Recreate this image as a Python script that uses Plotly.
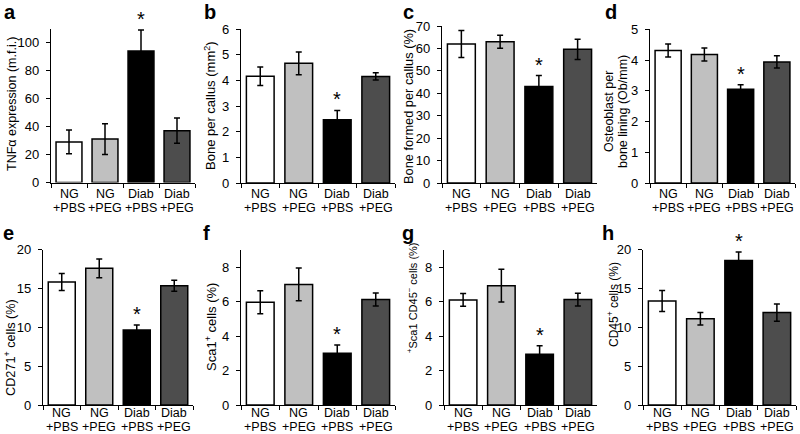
import plotly.graph_objects as go

groups = ["NG", "NG", "Diab", "Diab"]
treatments = ["+PBS", "+PEG", "+PBS", "+PEG"]
categories = ["NG +PBS", "NG +PEG", "Diab +PBS", "Diab +PEG"]
bar_colors = ["#ffffff", "#c0c0c0", "#000000", "#4d4d4d"]

panel_letters = ["a", "b", "c", "d", "e", "f", "g", "h"]

a_vals = [29, 31, 94, 37]
a_err = [8.5, 11, 15, 9]
b_vals = [4.17, 4.67, 2.47, 4.16]
b_err = [0.36, 0.44, 0.36, 0.14]
c_vals = [62, 63, 43, 59.6]
c_err = [6, 2.9, 4.9, 4.5]
d_vals = [4.31, 4.18, 3.05, 3.94]
d_err = [0.21, 0.21, 0.15, 0.2]
e_vals = [15.85, 17.6, 9.65, 15.35]
e_err = [1.1, 1.2, 0.65, 0.7]
f_vals = [5.97, 7.0, 3.0, 6.13]
f_err = [0.67, 0.95, 0.48, 0.38]
g_vals = [6.1, 6.93, 2.95, 6.12]
g_err = [0.37, 0.95, 0.49, 0.37]
h_vals = [13.4, 11.1, 18.6, 11.9]
h_err = [1.35, 0.8, 1.1, 1.1]

star_index = 2  # Diab +PBS significant in every panel

y_titles = [
    "TNFα expression (m.f.i.)",
    "Bone per callus (mm<sup>2</sup>)",
    "Bone formed per callus (%)",
    ["Osteoblast per", "bone lining (Ob/mm)"],
    "CD271<sup>+</sup> cells (%)",
    "Sca1<sup>+</sup> cells (%)",
    "<sup>+</sup>Sca1 CD45<sup>−</sup> cells (%)",
    "CD45<sup>+</sup> cells (%)",
]
y_ranges = [[0, 110], [0, 6], [0, 70], [0, 5], [0, 20], [0, 9], [0, 9], [0, 20]]
y_ticks = [
    [0, 20, 40, 60, 80, 100],
    [0, 1, 2, 3, 4, 5, 6],
    [0, 10, 20, 30, 40, 50, 60, 70],
    [0, 1, 2, 3, 4, 5],
    [0, 5, 10, 15, 20],
    [0, 2, 4, 6, 8],
    [0, 2, 4, 6, 8],
    [0, 5, 10, 15, 20],
]
values = [a_vals, b_vals, c_vals, d_vals, e_vals, f_vals, g_vals, h_vals]
errors = [a_err, b_err, c_err, d_err, e_err, f_err, g_err, h_err]

# ---- layout geometry (pixels) ----
W, H = 800, 434
# (x_left, x_right, y_top, y_bottom)
boxes = [
    (51, 195, 28.5, 182.5),
    (241, 395, 29.3, 183),
    (442, 597, 26, 183),
    (650, 795, 29.3, 183),
    (43, 193, 249.7, 405),
    (241, 395, 250, 405),
    (444, 597, 250, 405),
    (643, 796, 249.7, 405),
]
letter_pos = [(10, 0), (210, 0), (408, 0), (611, 0),
              (8, 221), (207, 221), (408, 221), (608, 221)]
title_pos = [(12, 104), (210, 106), (408, 107), None,
             (10, 348), (211, 327), (412, 298), (613, 305)]
title_sizes = [12.5, 13, 12.8, 12.5, 12.7, 13, 11, 12]
label_centers = [(194, 208)] * 4 + [(413, 426.5)] * 4

px = lambda x: x / W
py = lambda y: 1 - y / H

fig = go.Figure()
FONT = "Liberation Sans, Arial, sans-serif"
annotations = []
layout_axes = {}

for i in range(8):
    n = i + 1
    xa = "x" if n == 1 else f"x{n}"
    ya = "y" if n == 1 else f"y{n}"
    x0, x1, yt, yb = boxes[i]
    fig.add_trace(go.Bar(
        x=categories, y=values[i],
        marker=dict(color=bar_colors, line=dict(color="black", width=1.5)),
        error_y=dict(type="data", array=errors[i], color="black", thickness=1.5, width=3),
        xaxis=xa, yaxis=ya, showlegend=False, hoverinfo="skip",
    ))
    layout_axes[f"xaxis{'' if n == 1 else n}"] = dict(
        domain=[px(x0), px(x1)], anchor=ya, type="category",
        categoryorder="array", categoryarray=categories,
        range=[-0.5, 3.5], tickson="boundaries", ticks="outside", ticklen=4,
        tickwidth=1.2, tickcolor="black", showline=True, linecolor="black",
        linewidth=1.2, showticklabels=False, showgrid=False, zeroline=False,
        automargin=False,
    )
    layout_axes[f"yaxis{'' if n == 1 else n}"] = dict(
        domain=[py(yb), py(yt)], anchor=xa, range=y_ranges[i],
        tickvals=y_ticks[i], ticks="outside", ticklen=4, tickwidth=1.2,
        tickcolor="black", showline=True, linecolor="black", linewidth=1.2,
        showgrid=False, zeroline=False, ticklabelstandoff=4, automargin=False,
        tickfont=dict(family=FONT, size=13, color="black"),
    )
    # category labels (two lines)
    c1, c2 = label_centers[i]
    for k in range(4):
        annotations.append(dict(x=k, y=py(c1), xref=xa, yref="paper",
                                text=groups[k], showarrow=False, yanchor="middle",
                                borderpad=0,
                                font=dict(family=FONT, size=12.5, color="black")))
        annotations.append(dict(x=k, y=py(c2), xref=xa, yref="paper",
                                text=treatments[k], showarrow=False, yanchor="middle",
                                borderpad=0,
                                font=dict(family=FONT, size=12.5, color="black")))
    # significance star
    annotations.append(dict(x=star_index, y=values[i][star_index] + errors[i][star_index],
                            xref=xa, yref=ya, text="*", showarrow=False,
                            yanchor="bottom", yshift=-2,
                            font=dict(family=FONT, size=20, color="black")))
    # panel letter
    lx, ly = letter_pos[i]
    annotations.append(dict(x=px(lx), y=py(ly), xref="paper", yref="paper",
                            text=f"<b>{panel_letters[i]}</b>", showarrow=False,
                            xanchor="center", yanchor="top", borderpad=0,
                            font=dict(family=FONT, size=20, color="black")))
    # y-axis title
    if isinstance(y_titles[i], list):
        for j, (tx, txt) in enumerate(zip([609, 623], y_titles[i])):
            annotations.append(dict(x=px(tx), y=py(112), xref="paper", yref="paper",
                                    text=txt, textangle=-90, showarrow=False,
                                    xanchor="center", yanchor="middle", borderpad=0,
                                    font=dict(family=FONT, size=title_sizes[i], color="black")))
    else:
        tx, ty = title_pos[i]
        annotations.append(dict(x=px(tx), y=py(ty), xref="paper", yref="paper",
                                text=y_titles[i], textangle=-90, showarrow=False,
                                xanchor="center", yanchor="middle", borderpad=0,
                                font=dict(family=FONT, size=title_sizes[i], color="black")))

fig.update_layout(
    width=W, height=H, margin=dict(l=0, r=0, t=0, b=0, pad=0, autoexpand=False),
    paper_bgcolor="white", plot_bgcolor="white",
    bargap=0.28, annotations=annotations,
    font=dict(family=FONT, color="black"),
    **layout_axes,
)

fig.write_html(
    "out.html",
    config={"displayModeBar": False},
    post_script="document.body.style.margin='0';document.body.style.overflow='hidden';",
)
